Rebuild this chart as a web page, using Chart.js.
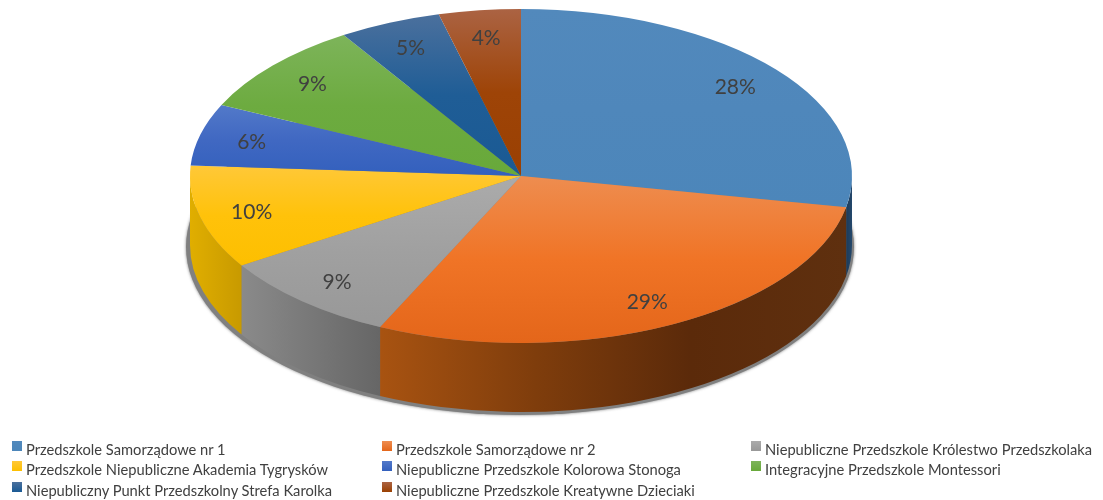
<!DOCTYPE html>
<html>
<head>
<meta charset="utf-8">
<style>
  html, body { margin: 0; background: #fff; }
  #wrap { position: relative; width: 1103px; height: 500px; overflow: hidden; }
  #legend div { position: absolute; font: 14.7px Lato, sans-serif; color: #404040; white-space: nowrap; line-height: 20px; }
  #legend i { position: absolute; left: -14px; top: 2px; width: 10px; height: 10px; }
</style>
<script src="https://cdn.jsdelivr.net/npm/chart.js@4"></script>
</head>
<body>
<div id="wrap">
  <canvas id="chart" width="1103" height="500"></canvas>
  <div id="legend"></div>
</div>
<script>
const categories = [
  "Przedszkole Samorządowe nr 1",
  "Przedszkole Samorządowe nr 2",
  "Niepubliczne Przedszkole Królestwo Przedszkolaka",
  "Przedszkole Niepubliczne Akademia Tygrysków",
  "Niepubliczne Przedszkole Kolorowa Stonoga",
  "Integracyjne Przedszkole Montessori",
  "Niepubliczny Punkt Przedszkolny Strefa Karolka",
  "Niepubliczne Przedszkole Kreatywne Dzieciaki",
];
const shares = [28, 29, 9, 10, 6, 9, 5, 4];

const faceLight = ["#5289bc", "#ee8d50", "#ababab", "#ffc838", "#5279c9", "#7db45a", "#4b709d", "#ab6343"];
const faceMid = ["#4f87bb", "#f07426", "#a0a0a0", "#ffc20a", "#4068c2", "#6dab40", "#1f5d96", "#9e4407"];
const faceDark = ["#4c86ba", "#e4661a", "#989898", "#fdbf00", "#3360bd", "#68a93a", "#1a5a94", "#9a4002"];
const wallStops = [
  ["#1c3a58", "#24486c"],
  ["#a85311", "#7f3d0c", "#5b2a0a", "#5f300f"],
  ["#8a8a8a", "#666666"],
  ["#e0ae00", "#c89a00"],
];

const pieX = 521, pieY = 176, rx = 331, ry = 167, depth = 69;
const legendCols = [26, 396, 765];
const legendRows = [439, 459, 480];

// chart.js only knows circles, so squash the canvas around the pie centre
const tilt = {
  id: "tilt",
  beforeDatasetsDraw(chart) {
    const { ctx } = chart;
    const arcs = chart.getDatasetMeta(0).data;

    // soft shadow under the base
    ctx.save();
    ctx.shadowColor = "rgba(90,90,90,0.8)";
    ctx.shadowBlur = 3;
    ctx.fillStyle = "#808080";
    ctx.beginPath();
    ctx.ellipse(pieX - 1, pieY + depth + 2, rx + 3, ry + 1, 0, 0, Math.PI * 2);
    ctx.fill();
    ctx.restore();

    // side walls of the slices facing the viewer
    arcs.forEach((arc, i) => {
      const from = Math.max(arc.startAngle, 0);
      const to = Math.min(arc.endAngle, Math.PI);
      if (from >= to || !wallStops[i]) return;
      const xLeft = pieX + rx * Math.cos(to);
      const xRight = pieX + rx * Math.cos(from);
      const grad = ctx.createLinearGradient(xLeft, 0, xRight, 0);
      wallStops[i].forEach((c, k, all) => grad.addColorStop(k / (all.length - 1), c));
      ctx.fillStyle = grad;
      ctx.beginPath();
      ctx.ellipse(pieX, pieY, rx, ry, 0, from, to);
      ctx.ellipse(pieX, pieY + depth, rx, ry, 0, to, from, true);
      ctx.closePath();
      ctx.fill();
    });

    const r = arcs[0].outerRadius;
    ctx.save();
    ctx.translate(pieX, pieY);
    ctx.scale(rx / r, ry / r);
    ctx.translate(-pieX, -pieY);
  },
  afterDatasetsDraw(chart) {
    const { ctx } = chart;
    ctx.restore();

    ctx.save();
    ctx.font = "21px Lato, sans-serif";
    ctx.fillStyle = "#404040";
    ctx.textAlign = "center";
    ctx.textBaseline = "middle";
    chart.getDatasetMeta(0).data.forEach((arc, i) => {
      const mid = (arc.startAngle + arc.endAngle) / 2;
      const x = pieX + rx * 0.84 * Math.cos(mid);
      const y = pieY + 1 + ry * 0.84 * Math.sin(mid);
      ctx.fillText(shares[i] + "%", x, y);
    });
    ctx.restore();
  },
};

// vertical gradient over the slice's own height
function faceFill(context) {
  const { chart, dataIndex: i } = context;
  const area = chart.chartArea;
  if (!area) return faceDark[i];
  const cy = (area.top + area.bottom) / 2;
  const r = Math.min(area.right - area.left, area.bottom - area.top) / 2;
  const total = shares.reduce((a, b) => a + b, 0);
  const before = shares.slice(0, i).reduce((a, b) => a + b, 0);
  const a0 = (before / total) * Math.PI * 2;
  const a1 = ((before + shares[i]) / total) * Math.PI * 2;
  const ys = [0, -Math.cos(a0), -Math.cos(a1)];
  if (a0 < Math.PI && a1 > Math.PI) ys.push(1);
  const grad = chart.ctx.createLinearGradient(0, cy + r * Math.min(...ys), 0, cy + r * Math.max(...ys));
  grad.addColorStop(0, faceLight[i]);
  grad.addColorStop(0.5, faceMid[i]);
  grad.addColorStop(1, faceDark[i]);
  return grad;
}

new Chart(document.getElementById("chart"), {
  type: "pie",
  data: {
    labels: categories,
    datasets: [{ data: shares, backgroundColor: faceFill, borderWidth: 0, clip: false }],
  },
  options: {
    responsive: false,
    animation: false,
    events: [],
    layout: { padding: { left: 0, top: 0, right: 1103 - pieX * 2, bottom: 500 - pieY * 2 } },
    plugins: { legend: { display: false }, tooltip: { enabled: false } },
  },
  plugins: [tilt],
});

const legend = document.getElementById("legend");
categories.forEach((name, i) => {
  const item = document.createElement("div");
  item.style.left = legendCols[i % 3] + "px";
  item.style.top = legendRows[Math.floor(i / 3)] + "px";
  item.innerHTML = "<i></i>" + name;
  item.firstChild.style.background = `linear-gradient(${faceLight[i]}, ${faceDark[i]})`;
  legend.appendChild(item);
});
</script>
</body>
</html>
